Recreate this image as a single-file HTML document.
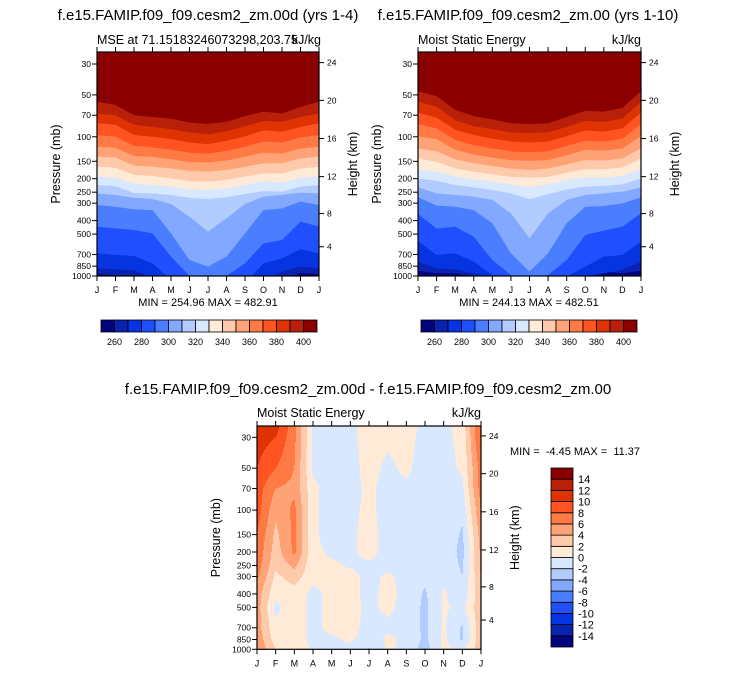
<!DOCTYPE html>
<html><head><meta charset="utf-8">
<style>
html,body{margin:0;padding:0;background:#fff;}
svg{display:block;font-family:"Liberation Sans",Arial,sans-serif;}
</style></head>
<body>
<svg id="root" width="733" height="674" viewBox="0 0 733 674" xmlns="http://www.w3.org/2000/svg">
<text x="208" y="20" font-size="15" text-anchor="middle">f.e15.FAMIP.f09_f09.cesm2_zm.00d (yrs 1-4)</text>
<text x="97" y="44" font-size="12.5">MSE at 71.15183246073298,203.75</text>
<text x="321" y="44" font-size="12.5" text-anchor="end">kJ/kg</text>
<text x="528" y="20" font-size="15" text-anchor="middle">f.e15.FAMIP.f09_f09.cesm2_zm.00 (yrs 1-10)</text>
<text x="418" y="44" font-size="12.5">Moist Static Energy</text>
<text x="641" y="44" font-size="12.5" text-anchor="end">kJ/kg</text>
<text x="208" y="306" font-size="11" text-anchor="middle">MIN = 254.96 MAX = 482.91</text>
<text x="529" y="306" font-size="11" text-anchor="middle">MIN = 244.13 MAX = 482.51</text>
<text x="368" y="394" font-size="15" text-anchor="middle">f.e15.FAMIP.f09_f09.cesm2_zm.00d - f.e15.FAMIP.f09_f09.cesm2_zm.00</text>
<text x="257" y="417" font-size="12.5">Moist Static Energy</text>
<text x="481" y="417" font-size="12.5" text-anchor="end">kJ/kg</text>
<text x="510" y="455" font-size="11">MIN =&#160; -4.45 MAX =&#160; 11.37</text>
<g id="layer"></g>
</svg>
<script>
// ---------- data ----------
const monthLabels = ['J','F','M','A','M','J','J','A','S','O','N','D','J'];
const pressureTicks = [30,50,70,100,150,200,250,300,400,500,700,850,1000];
const heightTicks = [4,8,12,16,20,24];
const palette = ['#03037e','#0a22b0','#0534e0','#1f4fff','#4a7eff','#83a8ff','#b3ccff','#d8e8ff','#ffe9d7','#ffc9ab','#ffa276','#ff7a45','#ff5422','#e03304','#b8200a','#8a0000'];
const mseLevels = [260,270,280,290,300,310,320,330,340,350,360,370,380,390,400];
const diffLevels = [-14,-12,-10,-8,-6,-4,-2,0,2,4,6,8,10,12,14];

// left panel: pressure (mb) where MSE crosses each level, per month J..J
const L260 = [967,989,989,1068,1129,1129,1129,1129,1129,1129,1039,957,967];
const L270 = [881,896,906,1039,1129,1129,1129,1129,1129,1068,931,857,881];
const L280 = [687,706,718,811,1068,1129,1129,1129,1129,811,747,643,687];
const L290 = [442,455,467,494,726,1000,1068,1000,811,583,551,407,442];
const L300 = [309,318,332,336,494,768,857,726,494,336,327,292,309];
const L310 = [255,262,274,280,304,375,480,385,304,269,262,252,255];
const L320 = [222,226,254,255,262,274,280,272,258,245,248,228,222];
const L330 = [193,197,218,222,228,239,241,235,223,208,214,197,193];
const L340 = [164,167,188,191,199,208,210,204,193,183,183,169,164];
const L350 = [139,141,161,164,169,176,178,173,164,155,155,143,139];
const L360 = [118,120,137,139,145,152,153,148,139,130,132,121,118];
const L370 = [97,100,116,119,124,130,132,126,118,108,110,101,97];
const L380 = [80,82,97,100,104,110,113,107,99,90,92,85,80];
const L390 = [68,70,82,85,88,93,96,91,84,77,78,72,68];
const L400 = [56,59,70,72,74,79,81,78,71,66,68,61,56];

// right panel
const R260 = [916,957,957,1011,1011,1011,1011,1011,1011,1011,931,957,916];
const R270 = [789,881,896,957,1011,1011,1011,1011,1011,1011,957,906,789];
const R280 = [561,706,687,789,984,1011,1011,1011,1011,857,726,706,566];
const R290 = [358,457,442,522,768,984,1011,984,768,508,472,442,355];
const R300 = [272,312,318,336,418,687,931,687,418,318,314,301,272];
const R310 = [231,255,262,269,284,355,536,355,284,262,255,248,231];
const R320 = [199,207,222,231,241,255,281,258,239,228,225,219,199];
const R330 = [171,178,193,202,210,219,232,219,204,197,196,191,171];
const R340 = [143,151,169,178,186,194,196,194,181,171,171,166,143];
const R350 = [121,127,145,155,162,169,173,169,158,147,148,143,121];
const R360 = [99,104,124,134,141,147,149,147,136,124,126,121,99];
const R370 = [81,87,105,115,121,127,129,127,116,107,108,103,81];
const R380 = [67,73,89,97,103,108,110,108,99,90,92,87,67];
const R390 = [56,61,76,84,88,93,94,93,85,77,78,74,56];
const R400 = [47,51,64,71,75,80,81,80,72,65,66,62,47];

// difference field: value per pressure level (diffPressures) for each month column
const diffPressures = [25,30,50,70,100,150,200,250,300,400,500,700,850,1000];
const dJan  = [11,11,10,9,9,8,7.5,7,6.5,5,5,5,5.5,6];
const dFeb  = [11,10,8,6,4.5,3.5,3,2.5,1.5,0.5,-0.5,0.5,1,2];
const dMar  = [6.5,6.5,6,5.5,6.5,6.5,6.5,4.5,3,1,1,1,1,1.5];
const dApr  = [-0.2,-0.3,-0.3,0.5,0.5,0.5,0.5,0.5,0.5,-0.5,-0.5,-0.5,-0.5,-0.3];
const dMay  = [-1,-1,-1,-1,-1,-1,-0.3,0.3,0.5,0.5,0.5,0.5,-0.3,-0.5];
const dJun  = [-0.3,-0.3,-0.5,-0.5,-0.3,-0.3,-0.3,-0.2,0.5,0.5,0.5,0.5,0.3,-0.5];
const dJul  = [0.5,0.5,0.5,0.3,0.3,0.5,0.5,-0.3,-0.5,-0.5,-0.3,-0.5,-0.8,-2.2];
const dAug  = [0.5,0.3,-0.3,-0.5,-0.5,-0.5,-0.5,-0.5,0.3,0.5,0.3,-0.3,0.3,0.3];
const dSep  = [0.5,0.5,0.3,-0.3,-0.5,-0.5,-0.5,-0.5,-0.5,-0.5,-0.5,-0.5,-0.3,-0.5];
const dOct  = [-0.3,-0.5,-0.7,-0.7,-0.7,-0.7,-0.7,-0.7,-1.5,-2.3,-2.5,-2.5,-2.5,-3];
const dNov  = [-0.5,-0.5,-0.7,-0.7,-0.7,-0.7,-0.7,-0.7,-0.5,0.3,0.3,0.3,0.5,0.5];
const dDec  = [0.8,0.5,0.3,-0.5,-1.5,-2.3,-2.6,-2.3,-2,-1.5,-0.5,-2.3,-2.3,-0.5];
const dJan2 = [8.5,8.5,7,7,6,5,4.5,4.5,4,3.5,3.5,3.5,3.5,3.5];

// ---------- drawing ----------
const NS = 'http://www.w3.org/2000/svg';
const layer = document.getElementById('layer');
function mk(tag, attrs, parent){
  const e = document.createElementNS(NS, tag);
  for (const k in attrs) e.setAttribute(k, attrs[k]);
  (parent||layer).appendChild(e);
  return e;
}
function stdPressure(zkm){
  const z = zkm*1000;
  if (z <= 11000) return 1013.25*Math.pow(1-0.0065*z/288.15, 5.2559);
  if (z <= 20000) return 226.32*Math.exp(-(z-11000)/6341.6);
  return 54.749*Math.pow(1+0.001*(z-20000)/216.65, -34.163);
}

function makeAxes(x0, x1, yTop, yBot){
  const pY = p => yBot - 139.2*Math.log10(1000/p);
  const mX = m => x0 + (x1-x0)*m/12;
  return {pY, mX, x0, x1, yTop, yBot};
}

function drawFrame(ax, prefix){
  const g = mk('g', {});
  
  
  const fr = mk('rect', {x:ax.x0, y:ax.yTop, width:ax.x1-ax.x0, height:ax.yBot-ax.yTop, fill:'none', stroke:'#000', 'stroke-width':1.2}, g);
  
  
  monthLabels.forEach((lab, i) => {
    const x = ax.mX(i);
    mk('line', {x1:x, y1:ax.yBot, x2:x, y2:ax.yBot+5, stroke:'#000'}, g);
    mk('line', {x1:x, y1:ax.yTop, x2:x, y2:ax.yTop-5, stroke:'#000'}, g);
    const t = mk('text', {x:x, y:ax.yBot+17, 'font-size':9, 'text-anchor':'middle'}, g);
    t.textContent = lab;
    
    
  });
  pressureTicks.forEach(p => {
    const y = ax.pY(p);
    mk('line', {x1:ax.x0-5, y1:y, x2:ax.x0, y2:y, stroke:'#000'}, g);
    const t = mk('text', {x:ax.x0-6, y:y+3, 'font-size':8.5, 'text-anchor':'end'}, g);
    t.textContent = p;
    
    
  });
  heightTicks.forEach(h => {
    const y = ax.pY(stdPressure(h));
    mk('line', {x1:ax.x1, y1:y, x2:ax.x1+5, y2:y, stroke:'#000'}, g);
    const t = mk('text', {x:ax.x1+8, y:y+3, 'font-size':8.5}, g);
    t.textContent = h;
    
    
  });
  const cy = (ax.yTop+ax.yBot)/2;
  const lt = mk('text', {x:0, y:0, 'font-size':12.5, 'text-anchor':'middle', transform:`translate(${ax.x0-37},${cy}) rotate(-90)`}, g);
  lt.textContent = 'Pressure (mb)';
  
  
  const rt = mk('text', {x:0, y:0, 'font-size':12.5, 'text-anchor':'middle', transform:`translate(${ax.x1+38},${cy}) rotate(-90)`}, g);
  rt.textContent = 'Height (km)';
  
  
}

function drawBands(ax, bounds, prefix){
  const cid = prefix + '-clip';
  const defs = mk('defs', {});
  const cp = mk('clipPath', {id:cid}, defs);
  mk('rect', {x:ax.x0, y:ax.yTop, width:ax.x1-ax.x0, height:ax.yBot-ax.yTop}, cp);
  const g = mk('g', {'clip-path':`url(#${cid})`});
  
  
  const bg = mk('rect', {x:ax.x0, y:ax.yTop, width:ax.x1-ax.x0, height:ax.yBot-ax.yTop, fill:palette[0]}, g);
  
  
  bounds.forEach((arr, k) => {
    let d = '';
    arr.forEach((p, i) => { d += (i ? 'L' : 'M') + ax.mX(i).toFixed(2) + ',' + ax.pY(p).toFixed(2); });
    d += `L${ax.x1},${ax.yTop-2}L${ax.x0},${ax.yTop-2}Z`;
    const path = mk('path', {d:d, fill:palette[k+1]}, g);
    
    
  });
}

function drawHColorbar(x0, y0, w, h, labels, prefix){
  const g = mk('g', {});
  
  
  const bw = w/palette.length;
  palette.forEach((c, i) => {
    const r = mk('rect', {x:x0+i*bw, y:y0, width:bw, height:h, fill:c, stroke:'#000', 'stroke-width':0.8}, g);
    
    
  });
  labels.forEach((v, k) => {
    if (k % 2 !== 0) return;
    const t = mk('text', {x:x0+(k+1)*bw, y:y0+h+13, 'font-size':9, 'text-anchor':'middle'}, g);
    t.textContent = v;
    
    
  });
}

// top panels
const axL = makeAxes(97, 319, 52, 276);
const axR = makeAxes(418, 641, 52, 276);
drawBands(axL, [L260,L270,L280,L290,L300,L310,L320,L330,L340,L350,L360,L370,L380,L390,L400], 'left-panel');
drawBands(axR, [R260,R270,R280,R290,R300,R310,R320,R330,R340,R350,R360,R370,R380,R390,R400], 'right-panel');
drawFrame(axL, 'left-panel');
drawFrame(axR, 'right-panel');
drawHColorbar(101, 320, 216, 12, mseLevels, 'left-panel');
drawHColorbar(421, 320, 216, 12, mseLevels, 'right-panel');

// diff panel heatmap
const axC = makeAxes(257, 481, 426, 649.3);
const diffCols = [dJan,dFeb,dMar,dApr,dMay,dJun,dJul,dAug,dSep,dOct,dNov,dDec,dJan2];
function diffValue(m, p){
  const lp = Math.log(p);
  let j = 0;
  while (j < diffPressures.length-2 && Math.log(diffPressures[j+1]) < lp) j++;
  const a = Math.log(diffPressures[j]), b = Math.log(diffPressures[j+1]);
  let t = (lp-a)/(b-a); t = Math.max(0, Math.min(1, t));
  let i = Math.min(11, Math.floor(m)); const s = Math.max(0, Math.min(1, m-i));
  const v0 = diffCols[i][j]*(1-t) + diffCols[i][j+1]*t;
  const v1 = diffCols[i+1][j]*(1-t) + diffCols[i+1][j+1]*t;
  return v0*(1-s) + v1*s;
}
function colorIndex(v){
  let k = 0;
  while (k < diffLevels.length && v >= diffLevels[k]) k++;
  return k;
}
const heat = mk('g', {});


const cell = 1;
for (let y = axC.yTop; y < axC.yBot; y += cell) {
  const yc = Math.min(axC.yBot, y + cell/2);
  const p = 1000*Math.pow(10, -(axC.yBot - yc)/139.2);
  let runStart = axC.x0, runColor = -1;
  for (let x = axC.x0; x <= axC.x1; x += cell) {
    let ci = -2;
    if (x < axC.x1) {
      const m = (Math.min(x + cell/2, axC.x1) - axC.x0)/(axC.x1-axC.x0)*12;
      ci = colorIndex(diffValue(m, p));
    }
    if (ci !== runColor) {
      if (runColor >= 0) {
        const r = mk('rect', {x:runStart, y:y, width:Math.min(x, axC.x1)-runStart+0.3, height:Math.min(cell, axC.yBot-y)+0.3, fill:palette[runColor]}, heat);
        
        
      }
      runStart = x; runColor = ci;
    }
  }
}
drawFrame(axC, 'diff-panel');

// vertical colorbar
const vb = mk('g', {});


const vbH = (647-468)/palette.length;
palette.forEach((c, i) => {
  const r = mk('rect', {x:551, y:647-(i+1)*vbH, width:22, height:vbH, fill:c, stroke:'#000', 'stroke-width':0.8}, vb);
  
  
});
diffLevels.forEach((v, k) => {
  const t = mk('text', {x:578, y:647-(k+1)*vbH+4, 'font-size':11}, vb);
  t.textContent = v;
  
  
});
</script>
</body></html>
